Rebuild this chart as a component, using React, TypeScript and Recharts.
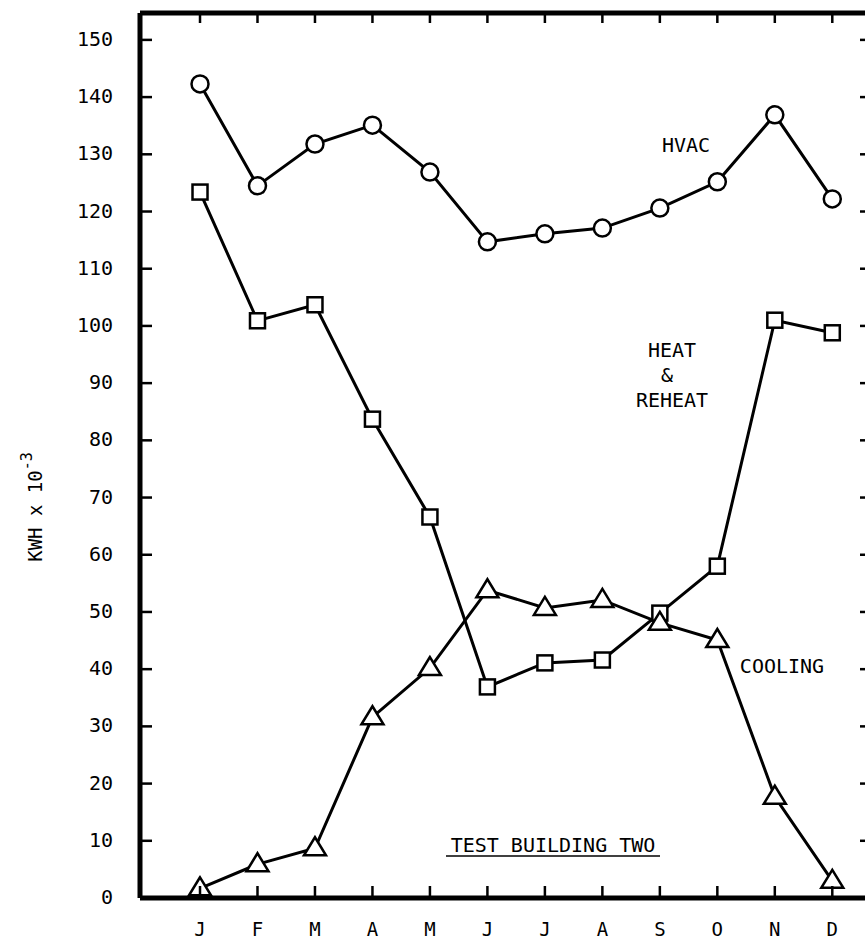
import { LineChart, Line, XAxis, YAxis } from "recharts";

const months = ["J", "F", "M", "A", "M", "J", "J", "A", "S", "O", "N", "D"];
const hvac = [142.3, 124.5, 131.8, 135.1, 126.9, 114.7, 116.1, 117.1, 120.6, 125.2, 136.9, 122.2];
const heatReheat = [123.4, 100.9, 103.7, 83.7, 66.6, 36.9, 41.1, 41.6, 49.8, 58.0, 101.0, 98.8];
const cooling = [1.7, 5.9, 8.7, 31.6, 40.2, 53.8, 50.7, 52.1, 48.1, 45.1, 17.7, 3.0];
const yTicks = [0, 10, 20, 30, 40, 50, 60, 70, 80, 90, 100, 110, 120, 130, 140, 150];
const xTicks = months.map((_, i) => i + 1);

const data = months.map((m, i) => ({
  idx: i + 1,
  month: m,
  hvac: hvac[i],
  heat: heatReheat[i],
  cooling: cooling[i],
}));

const FONT = "'DejaVu Sans Mono', 'Liberation Mono', monospace";
const TICK = 12;

const CircleDot = (p: any) => (
  <circle key={`c-${p.index}`} cx={p.cx} cy={p.cy} r={8.5} fill="#fff" stroke="#000" strokeWidth={2.5} />
);

const SquareDot = (p: any) => (
  <rect key={`s-${p.index}`} x={p.cx - 7.5} y={p.cy - 7.5} width={15} height={15} fill="#fff" stroke="#000" strokeWidth={2.5} />
);

const TriangleDot = (p: any) => {
  const w = 11;
  const pts = `${p.cx},${p.cy - 11} ${p.cx - w},${p.cy + 7} ${p.cx + w},${p.cy + 7}`;
  return <polygon key={`t-${p.index}`} points={pts} fill="#fff" stroke="#000" strokeWidth={2.5} />;
};

// ticks on this old plot point inward, labels stay outside
const LeftTick = (p: any) => {
  const ax = p.x + 27;
  return (
    <g>
      <line x1={ax} x2={ax + TICK} y1={p.y} y2={p.y} stroke="#000" strokeWidth={2.5} />
      <text x={p.x} y={p.y} dy={6} textAnchor="end" fontSize={20} fontFamily={FONT} fill="#000">
        {p.payload.value}
      </text>
    </g>
  );
};

const BottomTick = (p: any) => {
  const ay = p.y - 24;
  return (
    <g>
      <line x1={p.x} x2={p.x} y1={ay} y2={ay - TICK} stroke="#000" strokeWidth={2.5} />
      <text x={p.x} y={p.y} dy={14} textAnchor="middle" fontSize={19} fontFamily={FONT} fill="#000">
        {months[p.payload.value - 1]}
      </text>
    </g>
  );
};

const TopTick = (p: any) => (
  <line x1={p.x} x2={p.x} y1={p.y} y2={p.y + 10} stroke="#000" strokeWidth={2.5} />
);

const RightTick = (p: any) => (
  <line x1={p.x} x2={p.x - 10} y1={p.y} y2={p.y} stroke="#000" strokeWidth={2.5} />
);

const axisLine = { stroke: "#000", strokeWidth: 5 };

export default function App() {
  return (
    <div style={{ position: "fixed", left: 8, top: 8, width: 857, height: 933, overflow: "hidden", background: "#fff" }}>
      <style>{"html,body{overflow:hidden}"}</style>
      <LineChart width={880} height={933} data={data} margin={{ top: 4, right: 17, bottom: 0, left: 0 }}>
        <XAxis
          dataKey="idx"
          type="number"
          domain={[-0.044, 12.656]}
          allowDataOverflow
          ticks={xTicks}
          height={43}
          tickSize={0}
          tickMargin={24}
          axisLine={axisLine}
          tickLine={false}
          tick={BottomTick}
          interval={0}
        />
        <XAxis
          xAxisId="top"
          dataKey="idx"
          type="number"
          orientation="top"
          domain={[-0.044, 12.656]}
          allowDataOverflow
          ticks={xTicks}
          height={1}
          tickSize={0}
          tickMargin={0}
          axisLine={axisLine}
          tickLine={false}
          tick={TopTick}
          interval={0}
        />
        <YAxis
          type="number"
          domain={[0, 154.7]}
          allowDataOverflow
          ticks={yTicks}
          width={132}
          tickSize={0}
          tickMargin={27}
          axisLine={axisLine}
          tickLine={false}
          tick={LeftTick}
          interval={0}
        />
        <YAxis
          yAxisId="right"
          orientation="right"
          type="number"
          domain={[0, 154.7]}
          allowDataOverflow
          ticks={yTicks}
          width={1}
          tickSize={0}
          tickMargin={0}
          axisLine={axisLine}
          tickLine={false}
          tick={RightTick}
          interval={0}
        />
        <Line dataKey="heat" type="linear" stroke="#000" strokeWidth={3} dot={SquareDot} isAnimationActive={false} />
        <Line dataKey="cooling" type="linear" stroke="#000" strokeWidth={3} dot={TriangleDot} isAnimationActive={false} />
        <Line dataKey="hvac" type="linear" stroke="#000" strokeWidth={3} dot={CircleDot} isAnimationActive={false} />
      </LineChart>
      <svg width={857} height={933} style={{ position: "absolute", left: 0, top: 0, pointerEvents: "none" }}>
        <g fontFamily={FONT} fill="#000" textAnchor="middle">
          <text x={678} y={144} fontSize={20}>HVAC</text>
          <text x={664} y={349} fontSize={20}>HEAT</text>
          <text x={659} y={374} fontSize={20}>&amp;</text>
          <text x={664} y={399} fontSize={20}>REHEAT</text>
          <text x={774} y={665} fontSize={20}>COOLING</text>
          <text x={545} y={844} fontSize={20}>TEST BUILDING TWO</text>
          <line x1={438} x2={652} y1={848} y2={848} stroke="#000" strokeWidth={1.5} />
          <text transform="translate(34, 499) rotate(-90)" fontSize={19}>
            KWH x 10<tspan dy={-10} fontSize={15}>-3</tspan>
          </text>
        </g>
      </svg>
    </div>
  );
}
